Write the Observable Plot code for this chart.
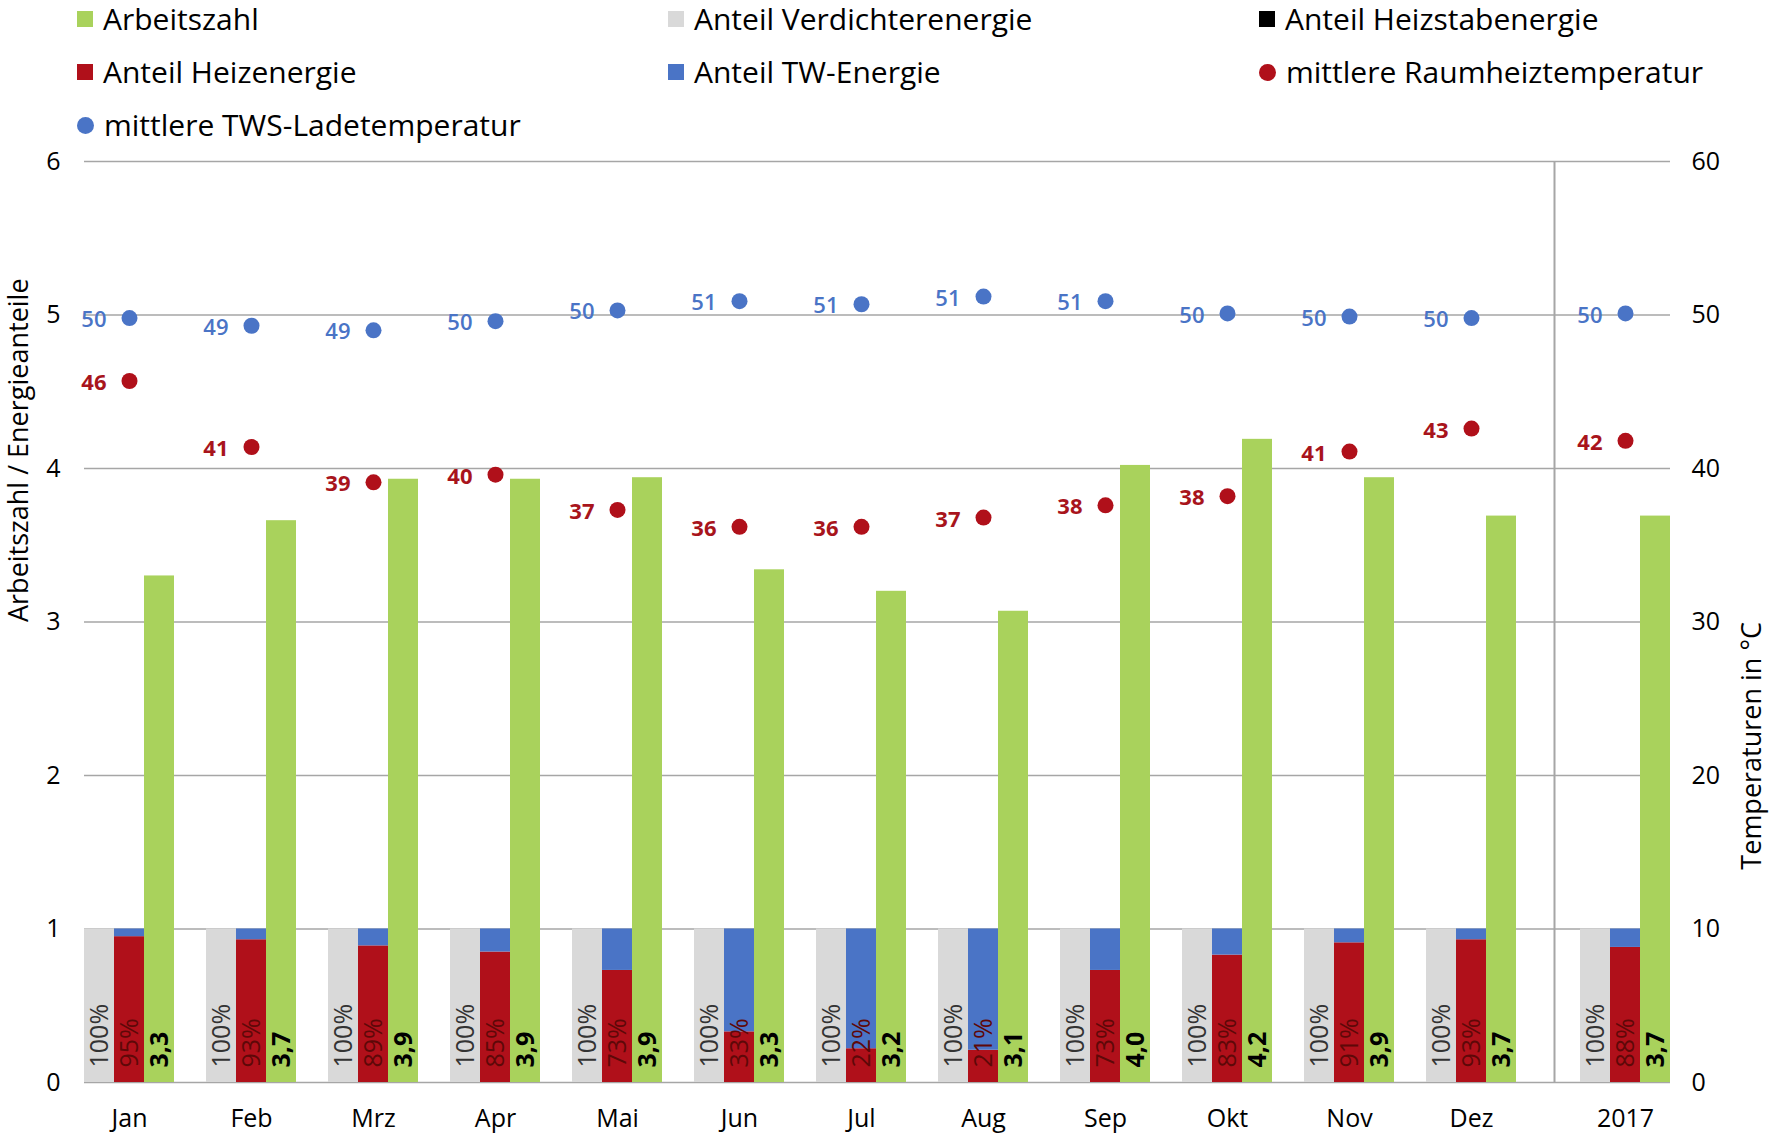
<!DOCTYPE html>
<html>
<head>
<meta charset="utf-8">
<script src="https://cdn.jsdelivr.net/npm/d3@7"></script>
<script src="https://cdn.jsdelivr.net/npm/@observablehq/plot@0.6"></script>
<style>
  html, body { margin: 0; padding: 0; background: #fff; }
  body { width: 1772px; height: 1135px; overflow: hidden; font-family: "Open Sans", sans-serif; }
  #legend { position: relative; width: 1772px; height: 145px; }
  .item { position: absolute; display: flex; align-items: center; font-size: 30px; color: #000; white-space: nowrap; line-height: 1; }
  .sw { width: 16px; height: 16px; margin-right: 10px; flex: none; }
  .sw.c { border-radius: 50%; width: 17px; height: 17px; }
  #chart { display: flex; flex-direction: row; align-items: flex-start; }
  #chart svg { display: block; flex: none; }
</style>
</head>
<body>
<div id="legend"></div>
<div id="chart"></div>
<script>
// ---- data ----
const months = ["Jan","Feb","Mrz","Apr","Mai","Jun","Jul","Aug","Sep","Okt","Nov","Dez"];
const yearLabel = ["2017"];
const arbeitszahl = [3.30,3.66,3.93,3.93,3.94,3.34,3.20,3.07,4.02,4.19,3.94,3.69];
const arbeitszahlJahr = [3.69];
const anteilVerdichter = [1,1,1,1,1,1,1,1,1,1,1,1];
const anteilVerdichterJahr = [1];
const anteilHeiz = [0.95,0.93,0.89,0.85,0.73,0.33,0.22,0.21,0.73,0.83,0.91,0.93];
const anteilHeizJahr = [0.88];
const anteilHeizstab = [0,0,0,0,0,0,0,0,0,0,0,0];
const anteilHeizstabJahr = [0];
const anteilTW = [0.05,0.07,0.11,0.15,0.27,0.67,0.78,0.79,0.27,0.17,0.09,0.07];
const anteilTWJahr = [0.12];
const twsTemp = [49.8,49.3,49.0,49.6,50.3,50.9,50.7,51.2,50.9,50.1,49.9,49.8];
const twsTempJahr = [50.1];
const raumTemp = [45.7,41.4,39.1,39.6,37.3,36.2,36.2,36.8,37.6,38.2,41.1,42.6];
const raumTempJahr = [41.8];
const yTicks = [0,1,2,3,4,5,6];
const tempTicks = [0,10,20,30,40,50,60];
const leftTitle = "Arbeitszahl / Energieanteile";
const rightTitle = "Temperaturen in °C";

const C = {
  green: "#a9d25c", grey: "#d9d9d9", red: "#b0101a", blue: "#4a74c6", black: "#000000",
  grid: "#a6a6a6", redText: "#5e0808", redLabel: "#a8141c", blueLabel: "#4a74c6"
};

const legendItems = [
  {label: "Arbeitszahl", color: C.green, shape: "s", col: 0, row: 0},
  {label: "Anteil Verdichterenergie", color: C.grey, shape: "s", col: 1, row: 0},
  {label: "Anteil Heizstabenergie", color: C.black, shape: "s", col: 2, row: 0},
  {label: "Anteil Heizenergie", color: C.red, shape: "s", col: 0, row: 1},
  {label: "Anteil TW-Energie", color: C.blue, shape: "s", col: 1, row: 1},
  {label: "mittlere Raumheiztemperatur", color: C.red, shape: "c", col: 2, row: 1},
  {label: "mittlere TWS-Ladetemperatur", color: C.blue, shape: "c", col: 0, row: 2}
];

// ---- legend ----
const colX = [77, 668, 1259];
const rowY = [19, 72, 125];
const leg = document.getElementById("legend");
for (const it of legendItems) {
  const d = document.createElement("div");
  d.className = "item";
  d.style.left = colX[it.col] + "px";
  d.style.top = (rowY[it.row] - 16) + "px";
  d.style.height = "32px";
  d.innerHTML = `<span class="sw ${it.shape === "c" ? "c" : ""}" style="background:${it.color}"></span><span>${it.label}</span>`;
  leg.appendChild(d);
}

// ---- chart helpers ----
const H = 990, mT = 16, mB = 53;
const groupW = 90, sub = groupW / 3;
const fmt1 = v => v.toFixed(1).replace(".", ",");
const pct = v => Math.round(v * 100) + "%";

function makeRows(cats, az, verd, heiz, stab, tw, tws, raum) {
  const rows = cats.map((m, i) => ({month: m, az: az[i], verd: verd[i], heiz: heiz[i], tws: tws[i], raum: raum[i]}));
  const stackRows = cats.flatMap((m, i) => [
    {month: m, kind: C.red, value: heiz[i]},
    {month: m, kind: C.black, value: stab[i]},
    {month: m, kind: C.blue, value: tw[i]}
  ]);
  return {rows, stackRows};
}

function dataMarks(rows, stackRows) {
  return [
    Plot.ruleY(yTicks, {stroke: C.grid, strokeWidth: 1.5}),
    Plot.barY(rows, {x: "month", y: "verd", fill: C.grey, insetRight: 2 * sub}),
    Plot.barY(stackRows, {x: "month", y: "value", fill: "kind", insetLeft: sub, insetRight: sub}),
    Plot.barY(rows, {x: "month", y: "az", fill: C.green, insetLeft: 2 * sub}),
    Plot.text(rows, {x: "month", y: 0, text: d => pct(d.verd), rotate: -90, textAnchor: "start", lineAnchor: "middle",
      dx: -sub, dy: -15, fontSize: 25, fill: "#333"}),
    Plot.text(rows, {x: "month", y: 0, text: d => pct(d.heiz), rotate: -90, textAnchor: "start", lineAnchor: "middle",
      dx: 0, dy: -15, fontSize: 25, fill: C.redText}),
    Plot.text(rows, {x: "month", y: 0, text: d => fmt1(d.az), rotate: -90, textAnchor: "start", lineAnchor: "middle",
      dx: sub, dy: -15, fontSize: 25, fontWeight: "bold", fill: "#000"}),
    Plot.dot(rows, {x: "month", y: d => d.tws / 10, r: 8, fill: C.blue}),
    Plot.dot(rows, {x: "month", y: d => d.raum / 10, r: 8, fill: C.red}),
    Plot.text(rows, {x: "month", y: d => d.tws / 10, text: d => Math.round(d.tws), textAnchor: "end", dx: -23, dy: 2,
      fontSize: 22, fontWeight: 600, fill: C.blueLabel}),
    Plot.text(rows, {x: "month", y: d => d.raum / 10, text: d => Math.round(d.raum), textAnchor: "end", dx: -23, dy: 2,
      fontSize: 22, fontWeight: "bold", fill: C.redLabel}),
    Plot.axisX({tickSize: 0, tickPadding: 27, fontSize: 25, label: null})
  ];
}

const common = {
  height: H, marginTop: mT, marginBottom: mB,
  style: {fontFamily: "Open Sans", fontSize: "25px", color: "#000", background: "#fff", overflow: "visible"},
  y: {domain: [0, 6], label: null},
  color: {type: "identity"}
};

// ---- monthly part (left of separator) ----
const W1 = 1554, mL1 = 84;
const range1 = W1 - mL1;
const step1 = 122;
const pIn1 = 1 - groupW / step1;
const pOut1 = (range1 / step1 - (months.length - pIn1)) / 2;
const m = makeRows(months, arbeitszahl, anteilVerdichter, anteilHeiz, anteilHeizstab, anteilTW, twsTemp, raumTemp);
const chart1 = Plot.plot({
  ...common,
  width: W1, marginLeft: mL1, marginRight: 0,
  x: {type: "band", domain: months, paddingInner: pIn1, paddingOuter: pOut1, align: 0, round: false, label: null},
  marks: [
    ...dataMarks(m.rows, m.stackRows),
    Plot.axisY({anchor: "left", ticks: yTicks, tickFormat: (d, i) => yTicks[i], tickSize: 0, tickPadding: 24, fontSize: 25, label: null}),
    Plot.text([leftTitle], {frameAnchor: "left", rotate: -90, dx: -65, fontSize: 27, fill: "#000"})
  ]
});

// ---- annual part (right of separator) ----
const W2 = 1772 - W1, mR2 = 102;
const range2 = W2 - mR2;
const pOut2 = (range2 / groupW - 1) / 2;
const y17 = makeRows(yearLabel, arbeitszahlJahr, anteilVerdichterJahr, anteilHeizJahr, anteilHeizstabJahr, anteilTWJahr, twsTempJahr, raumTempJahr);
const chart2 = Plot.plot({
  ...common,
  width: W2, marginLeft: 0, marginRight: mR2,
  x: {type: "band", domain: yearLabel, paddingInner: 0, paddingOuter: pOut2, align: 1, round: false, label: null},
  marks: [
    ...dataMarks(y17.rows, y17.stackRows),
    Plot.ruleX(yearLabel, {dx: -(range2 - groupW / 2), stroke: C.grid, strokeWidth: 2}),
    Plot.axisY({anchor: "right", ticks: yTicks, tickFormat: (d, i) => tempTicks[i], tickSize: 0, tickPadding: 21, fontSize: 25, label: null}),
    Plot.text([rightTitle], {frameAnchor: "right", rotate: -90, dx: 82, fontSize: 27, fill: "#000"})
  ]
});

const host = document.getElementById("chart");
host.appendChild(chart1);
host.appendChild(chart2);
</script>
</body>
</html>
